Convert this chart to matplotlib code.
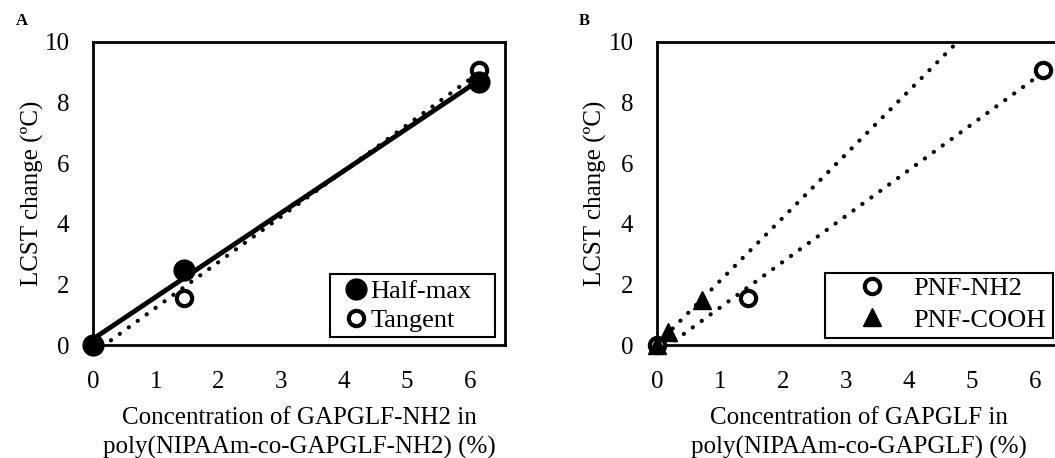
import matplotlib
matplotlib.use("Agg")
import matplotlib.pyplot as plt
from matplotlib.patches import Rectangle
import numpy as np

plt.rcParams['font.family'] = ['Liberation Serif', 'DejaVu Serif']

# panel A
conc_a = [0, 1.45, 6.15]
halfmax = [0, 2.47, 8.68]
tangent = [0, 1.55, 9.08]

# panel B
conc_nh2 = [0, 1.45, 6.13]
lcst_nh2 = [0, 1.55, 9.08]
conc_cooh = [0, 0.18, 0.71]
lcst_cooh = [0, 0.43, 1.5]

xticks = [0, 1, 2, 3, 4, 5, 6]
yticks = [0, 2, 4, 6, 8, 10]

FS = 18
DOTS = (0, (0.05, 2.6))

def fitline(x, y, x0, x1):
    k, b = np.polyfit(x, y, 1)
    xx = np.array([x0, x1])
    return xx, k*xx + b

def style(ax, xmax):
    ax.set_xlim(0, xmax)
    ax.set_ylim(0, 10)
    ax.set_xticks(xticks)
    ax.set_yticks(yticks)
    ax.tick_params(axis='x', length=0, labelsize=FS, pad=19)
    ax.tick_params(axis='y', length=0, labelsize=FS, pad=17)
    for s in ax.spines.values():
        s.set_linewidth(2)

def legbox(ax, x0, y0, x1, y1):
    # excel-like legend frame
    ax.add_patch(Rectangle((x0, y0), x1-x0, y1-y0, transform=ax.transAxes,
                           fill=False, ec='black', lw=1.5, zorder=5, clip_on=False))

fig = plt.figure(figsize=(10.55, 4.58), dpi=100)
W, H = 1055, 458
axA = fig.add_axes([93/W, 1-345/H, (505-93)/W, (345-42)/H])
axB = fig.add_axes([657/W, 1-345/H, (1060-657)/W, (345-42)/H])

# A
xx, yy = fitline(conc_a, halfmax, 0, conc_a[-1])
axA.plot(xx, yy, color='black', lw=3.5, zorder=2)
xx, yy = fitline(conc_a, tangent, 0, conc_a[-1])
axA.plot(xx, yy, color='black', lw=3, ls=DOTS, dash_capstyle='round', zorder=2)
axA.plot(conc_a, tangent, 'o', mfc='white', mec='black', mew=3, ms=11, label='Tangent', zorder=3, clip_on=False)
axA.plot(conc_a, halfmax, 'o', color='black', ms=15, label='Half-max', zorder=4, clip_on=False)
style(axA, 6.56)
axA.set_ylabel('LCST change (ºC)', fontsize=FS, labelpad=0)
axA.set_xlabel('Concentration of GAPGLF-NH2 in\npoly(NIPAAm-co-GAPGLF-NH2) (%)', fontsize=FS,
               labelpad=10, linespacing=1.4)
h, l = axA.get_legend_handles_labels()
axA.legend(h[::-1], l[::-1], loc='center left', bbox_to_anchor=(0.612, 0.129), fontsize=19,
           frameon=False, handlelength=0.85, handletextpad=0.1, borderpad=0, borderaxespad=0,
           labelspacing=0.2)
legbox(axA, 0.575, 0.026, 0.976, 0.234)

# B
xx, yy = fitline(conc_nh2, lcst_nh2, 0, conc_nh2[-1])
axB.plot(xx, yy, color='black', lw=3, ls=DOTS, dash_capstyle='round', zorder=2)
xx, yy = fitline(conc_cooh, lcst_cooh, 0, 6)
axB.plot(xx, yy, color='black', lw=3, ls=DOTS, dash_capstyle='round', zorder=2)
axB.plot(conc_nh2, lcst_nh2, 'o', mfc='white', mec='black', mew=3, ms=11, label='PNF-NH2', zorder=3, clip_on=False)
axB.plot(conc_cooh, lcst_cooh, '^', color='black', ms=13, label='PNF-COOH', zorder=4, clip_on=False)
style(axB, 6.4)
axB.spines['right'].set_visible(False)
axB.set_ylabel('LCST change (ºC)', fontsize=FS, labelpad=1)
axB.set_xlabel('Concentration of GAPGLF in\npoly(NIPAAm-co-GAPGLF) (%)', fontsize=FS,
               labelpad=10, linespacing=1.4)
axB.legend(loc='center left', bbox_to_anchor=(0.501, 0.135), fontsize=19,
           frameon=False, handlelength=1.0, handletextpad=1.06, borderpad=0, borderaxespad=0,
           labelspacing=0.3)
legbox(axB, 0.417, 0.023, 0.983, 0.238)

fig.text(22/W, 1-21/H, 'A', fontsize=12, fontweight='bold', ha='center', va='center')
fig.text(584/W, 1-21/H, 'B', fontsize=12, fontweight='bold', ha='center', va='center')

fig.savefig('out.png', dpi=100)
